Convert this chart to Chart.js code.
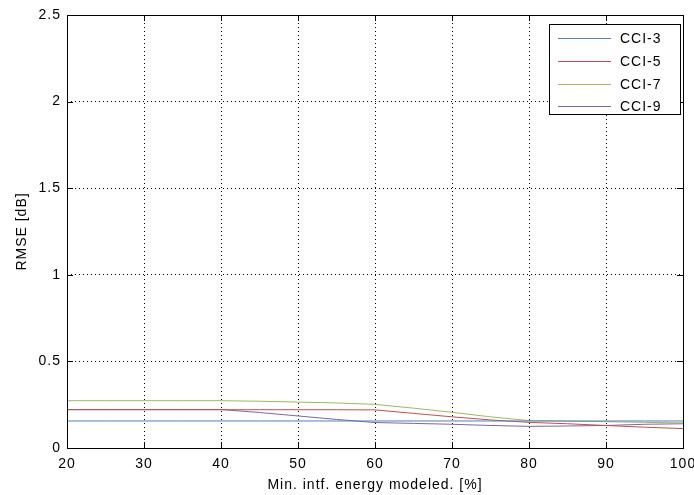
<!DOCTYPE html>
<html><head><meta charset="utf-8">
<script src="https://cdn.jsdelivr.net/npm/chart.js@4/dist/chart.umd.min.js"></script>
<style>html,body{margin:0;padding:0;background:#fff}#wrap{width:694px;height:495px}</style>
</head><body><div id="wrap"><canvas id="c" width="694" height="495"></canvas></div>
<script>
const xValues = [20, 25, 30, 35, 40, 45, 50, 55, 60, 65, 70, 75, 80, 85, 90, 95, 100];
const cci3 = [0.156, 0.156, 0.156, 0.156, 0.156, 0.156, 0.156, 0.156, 0.156, 0.156, 0.156, 0.156, 0.156, 0.156, 0.156, 0.156, 0.156];
const cci5 = [0.221, 0.221, 0.221, 0.221, 0.221, 0.221, 0.221, 0.221, 0.220, 0.200, 0.180, 0.162, 0.148, 0.140, 0.130, 0.120, 0.112];
const cci7 = [0.273, 0.273, 0.273, 0.273, 0.273, 0.270, 0.265, 0.260, 0.252, 0.230, 0.206, 0.180, 0.158, 0.155, 0.152, 0.148, 0.145];
const cci9 = [0.222, 0.222, 0.222, 0.222, 0.222, 0.205, 0.185, 0.165, 0.147, 0.142, 0.137, 0.130, 0.125, 0.127, 0.130, 0.137, 0.140];
const seriesNames = ['CCI-3', 'CCI-5', 'CCI-7', 'CCI-9'];
const seriesColors = ['#4F81BD', '#C0504D', '#9BBB59', '#8064A2'];
const xTicks = [20, 30, 40, 50, 60, 70, 80, 90, 100];
const yTicks = [0, 0.5, 1, 1.5, 2, 2.5];
const xTitle = 'Min. intf. energy modeled. [%]';
const yTitle = 'RMSE [dB]';

const FONT = '"Liberation Sans", Arial, Helvetica, sans-serif';
const allSeries = [cci3, cci5, cci7, cci9];
const datasets = allSeries.map((s, i) => ({
  label: seriesNames[i],
  data: xValues.map((x, j) => ({x: x, y: s[j]})),
  borderColor: seriesColors[i],
  borderWidth: 1,
  pointRadius: 0,
  tension: 0,
  fill: false
}));

const spacingPlugin = {
  id: 'spacing',
  beforeUpdate(chart) { chart.ctx.letterSpacing = '1px'; },
  beforeDraw(chart) { chart.ctx.letterSpacing = '1px'; }
};

const framePlugin = {
  id: 'frame',
  afterDraw(chart) {
    const {ctx, chartArea: a, scales} = chart;
    ctx.save();
    ctx.strokeStyle = '#000';
    ctx.lineWidth = 1;
    ctx.setLineDash([]);
    ctx.strokeRect(Math.round(a.left) + 0.5, Math.round(a.top) + 0.5, Math.round(a.right - a.left), Math.round(a.bottom - a.top));
    ctx.beginPath();
    xTicks.forEach(v => {
      const px = Math.round(scales.x.getPixelForValue(v)) + 0.5;
      ctx.moveTo(px, a.bottom); ctx.lineTo(px, a.bottom - 6);
      ctx.moveTo(px, a.top); ctx.lineTo(px, a.top + 6);
    });
    yTicks.forEach(v => {
      const py = Math.round(scales.y.getPixelForValue(v)) + 0.5;
      ctx.moveTo(a.left, py); ctx.lineTo(a.left + 6, py);
      ctx.moveTo(a.right, py); ctx.lineTo(a.right - 6, py);
    });
    ctx.stroke();
    // legend
    const bx = 549, by = 24, bw = 131, bh = 90;
    ctx.fillStyle = '#fff';
    ctx.fillRect(bx, by, bw, bh);
    ctx.strokeRect(bx + 0.5, by + 0.5, bw, bh);
    const rows = [38, 61, 84, 106];
    ctx.font = '14px ' + FONT;
    ctx.letterSpacing = '1px';
    ctx.textBaseline = 'middle';
    ctx.textAlign = 'left';
    chart.data.datasets.forEach((d, i) => {
      ctx.strokeStyle = d.borderColor;
      ctx.beginPath();
      ctx.moveTo(558, rows[i] + 0.5); ctx.lineTo(611, rows[i] + 0.5);
      ctx.stroke();
      ctx.fillStyle = '#000';
      ctx.fillText(d.label, 620, rows[i] + 1);
    });
    ctx.restore();
  }
};

new Chart(document.getElementById('c'), {
  type: 'line',
  data: { datasets },
  options: {
    responsive: false,
    animation: false,
    layout: { padding: { left: 0, right: 0, top: 15, bottom: 0 } },
    plugins: { legend: { display: false }, tooltip: { enabled: false } },
    scales: {
      x: {
        type: 'linear', min: 20, max: 100,
        afterBuildTicks(s) { s.ticks = xTicks.map(v => ({value: v})); },
        afterFit(s) { s.height = 47; s.paddingRight = 11; s.paddingLeft = 0; },
        grid: { color: '#000', lineWidth: 1, drawTicks: false },
        border: { display: false, dash: [1, 3] },
        ticks: { color: '#000', font: { size: 14, family: FONT }, padding: 8, maxRotation: 0 },
        title: { display: true, text: xTitle, color: '#000', font: { size: 14, family: FONT }, padding: { top: 0, bottom: 1 } }
      },
      y: {
        type: 'linear', min: 0, max: 2.5,
        afterBuildTicks(s) { s.ticks = yTicks.map(v => ({value: v})); },
        afterFit(s) { s.width = 67; },
        grid: { color: '#000', lineWidth: 1, drawTicks: false },
        border: { display: false, dash: [1, 3] },
        ticks: { color: '#000', font: { size: 14, family: FONT }, padding: 6, callback: v => String(v) },
        title: { display: true, text: yTitle, color: '#000', font: { size: 14, family: FONT }, padding: { top: 14, bottom: 0 } }
      }
    }
  },
  plugins: [spacingPlugin, framePlugin]
});
</script></body></html>
